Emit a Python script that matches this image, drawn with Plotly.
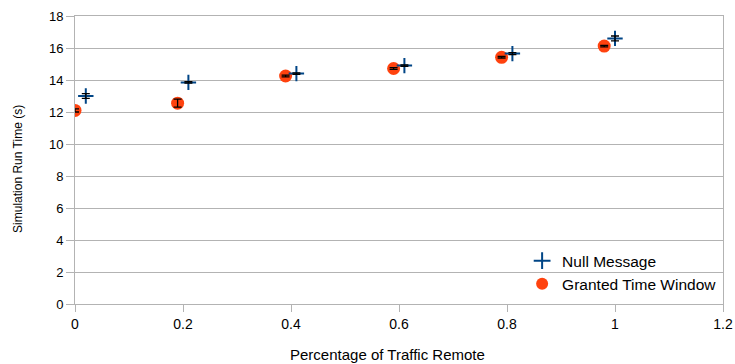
import plotly.graph_objects as go

null_x = [0.02, 0.21, 0.41, 0.61, 0.81, 1.0]
null_y = [13.0, 13.85, 14.4, 14.9, 15.65, 16.6]
null_err = [0.15, 0.05, 0.05, 0.05, 0.06, 0.15]

gtw_x = [0.0, 0.19, 0.39, 0.59, 0.79, 0.98]
gtw_y = [12.1, 12.55, 14.25, 14.72, 15.42, 16.12]
gtw_err = [0.1, 0.25, 0.05, 0.05, 0.05, 0.05]

x_ticks = [0, 0.2, 0.4, 0.6, 0.8, 1, 1.2]
x_tick_labels = ["0", "0.2", "0.4", "0.6", "0.8", "1", "1.2"]
y_ticks = [0, 2, 4, 6, 8, 10, 12, 14, 16, 18]

BLUE = "#004586"
ORANGE = "#FF420E"

fig = go.Figure()
fig.add_trace(go.Scatter(
    x=gtw_x, y=gtw_y, mode="markers", name="Granted Time Window", legendrank=2,
    marker=dict(symbol="circle", size=13, color=ORANGE),
    hoverinfo="x+y",
))
fig.add_trace(go.Scatter(
    x=null_x, y=null_y, mode="markers", name="Null Message", legendrank=1,
    marker=dict(symbol="cross-thin", size=11, color=BLUE,
                line=dict(width=2, color=BLUE)),
    hoverinfo="x+y",
))
# error bars drawn on top of the markers
fig.add_trace(go.Scatter(
    x=gtw_x, y=gtw_y, mode="markers", showlegend=False, hoverinfo="skip",
    marker=dict(size=1, opacity=0),
    error_y=dict(type="data", array=gtw_err, color="black", thickness=1.3, width=4),
))
fig.add_trace(go.Scatter(
    x=null_x, y=null_y, mode="markers", showlegend=False, hoverinfo="skip",
    marker=dict(size=1, opacity=0),
    error_y=dict(type="data", array=null_err, color="black", thickness=1.3, width=4),
))

fig.update_layout(
    width=735, height=364,
    margin=dict(l=75, r=12, t=16, b=60, autoexpand=False),
    paper_bgcolor="white", plot_bgcolor="white",
    font=dict(family="Liberation Sans, Arial, sans-serif", size=13, color="black"),
    showlegend=True,
    legend=dict(x=0.69, y=0.208, xanchor="left", yanchor="top",
                bgcolor="rgba(0,0,0,0)", font=dict(size=15.5),
                tracegroupgap=0, itemsizing="constant", itemwidth=30),
    xaxis=dict(range=[0, 1.2], tickvals=x_ticks, ticktext=x_tick_labels,
               showgrid=False, zeroline=False, automargin=False,
               showline=True, linecolor="#b3b3b3", linewidth=1, mirror=True,
               ticks="outside", ticklen=7, tickcolor="#b3b3b3",
               tickfont=dict(size=14)),
    yaxis=dict(range=[0, 18], tickvals=y_ticks,
               showgrid=True, gridcolor="#b3b3b3", gridwidth=1, zeroline=False,
               automargin=False,
               showline=True, linecolor="#b3b3b3", linewidth=1, mirror=True,
               ticks="outside", ticklen=8, tickcolor="#b3b3b3",
               tickfont=dict(size=13)),
    annotations=[
        dict(text="Percentage of Traffic Remote", xref="paper", yref="paper",
             x=0.483, y=-0.177, xanchor="center", yanchor="middle",
             showarrow=False, font=dict(size=15)),
        dict(text="Simulation Run Time (s)", xref="paper", yref="paper",
             x=-0.088, y=0.469, xanchor="center", yanchor="middle",
             textangle=-90, showarrow=False, font=dict(size=12)),
    ],
)

fig.write_html("out.html", config={"displayModeBar": False},
               post_script="document.body.style.margin='0px';")
